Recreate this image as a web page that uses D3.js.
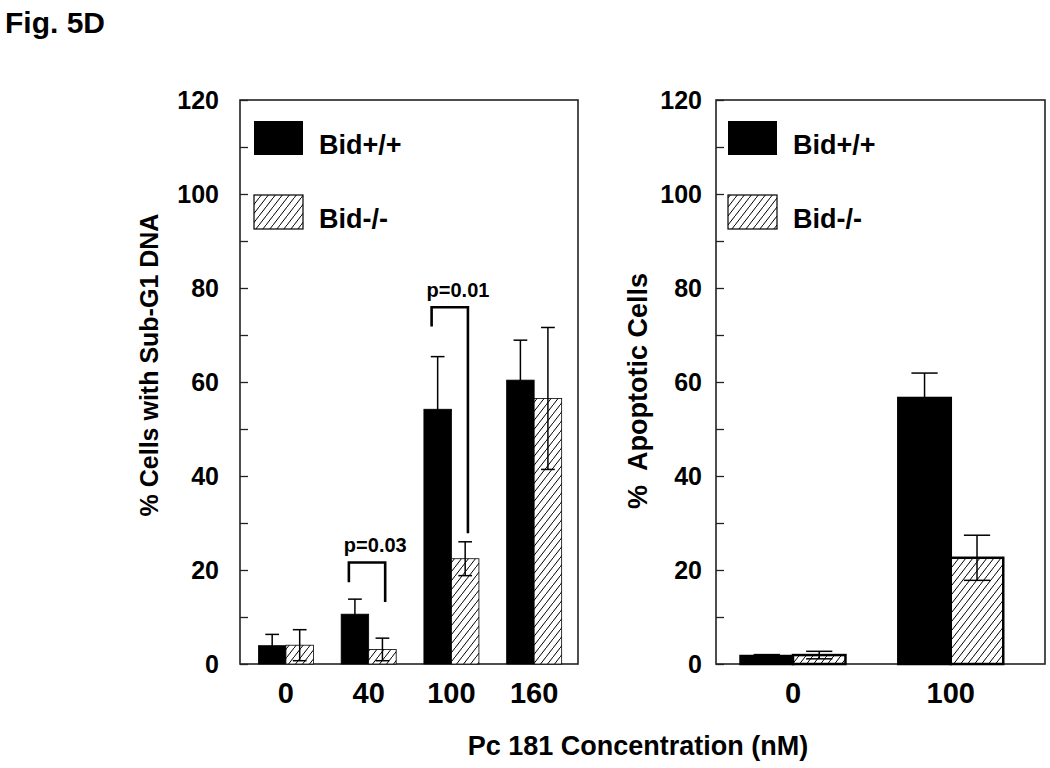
<!DOCTYPE html>
<html>
<head>
<meta charset="utf-8">
<script src="https://cdn.jsdelivr.net/npm/d3@7/dist/d3.min.js"></script>
<style>
  html, body { margin: 0; padding: 0; background: #fff; }
  svg { display: block; }
  text { font-family: "Liberation Sans", Arial, sans-serif; font-weight: bold; fill: #000; }
</style>
</head>
<body>
<svg id="chart" width="1050" height="768"></svg>
<script>
// ---------- data ----------
const seriesNames = ["Bid+/+", "Bid-/-"];
const leftCategories = ["0", "40", "100", "160"];
const leftWT = [3.9, 10.6, 54.2, 60.4];
const leftWTErr = [2.4, 3.2, 11.2, 8.5];
const leftKO = [4.0, 3.1, 22.4, 56.5];
const leftKOErr = [3.3, 2.4, 3.6, 15.1];

const rightCategories = ["0", "100"];
const rightWT = [1.7, 56.6];
const rightWTErr = [0.3, 5.3];
const rightKO = [1.9, 22.6];
const rightKOErr = [0.8, 4.8];

const yTickValues = [0, 10, 20, 30, 40, 50, 60, 70, 80, 90, 100, 110, 120];
const yTickLabels = ["0", "", "20", "", "40", "", "60", "", "80", "", "100", "", "120"];

// p-value brackets: category, label, top value, left end value, right end value
const bracketCats = ["40", "100"];
const bracketLabels = ["p=0.03", "p=0.01"];
const bracketTop = [21.6, 75.9];
const bracketLeftEnd = [17.4, 71.8];
const bracketRightEnd = [13.2, 27.8];

const leftTitle = "% Cells with Sub-G1 DNA";
const rightTitle = "%\u00a0 Apoptotic Cells";
const xTitle = "Pc 181 Concentration (nM)";
const figTitle = "Fig. 5D";

// ---------- drawing ----------
const svg = d3.select("#chart");
const defs = svg.append("defs");
const pat = defs.append("pattern")
  .attr("id", "hatch").attr("patternUnits", "userSpaceOnUse")
  .attr("width", 7).attr("height", 9);
pat.append("rect").attr("width", 7).attr("height", 9).attr("fill", "#fff");
pat.append("path").attr("d", "M0,9 L7,0 M-1,1 L0,0 M7,9 L8,8")
  .attr("stroke", "#000").attr("stroke-width", 1);

svg.append("text").attr("x", 5).attr("y", 33).attr("font-size", 30).text(figTitle);

function panel(cfg) {
  const g = svg.append("g");
  const y = d3.scaleLinear().domain([0, 120]).range([664, 100]);
  const x = d3.scaleBand().domain(cfg.cats).range([cfg.x0, cfg.x1])
    .paddingInner(0.335).paddingOuter(0.21).align(cfg.align);
  const xs = d3.scaleBand().domain(seriesNames).range([0, x.bandwidth()]);
  const bw = xs.bandwidth();

  // frame
  g.append("rect").attr("x", cfg.x0).attr("y", y(120))
    .attr("width", cfg.x1 - cfg.x0).attr("height", y(0) - y(120))
    .attr("fill", "none").attr("stroke", "#222").attr("stroke-width", 1.6);

  // y axis (ticks inward)
  const yAxis = d3.axisLeft(y).tickValues(yTickValues).tickSizeInner(-8).tickSizeOuter(0)
    .tickPadding(cfg.tickPad).tickFormat((d, i) => yTickLabels[i]);
  const ya = g.append("g").attr("transform", `translate(${cfg.x0},0)`).call(yAxis);
  ya.select(".domain").remove();
  ya.selectAll(".tick line").attr("stroke", "#222").attr("stroke-width", 1.3);
  ya.selectAll(".tick text").attr("font-size", 25).attr("font-family", "Liberation Sans, Arial, sans-serif")
    .attr("font-weight", "bold").attr("fill", "#000");

  // x axis labels
  const xAxis = d3.axisBottom(x).tickSize(0).tickPadding(13);
  const xa = g.append("g").attr("transform", `translate(0,${y(0)})`).call(xAxis);
  xa.select(".domain").remove();
  xa.selectAll(".tick text").attr("font-size", 29).attr("font-family", "Liberation Sans, Arial, sans-serif")
    .attr("font-weight", "bold").attr("fill", "#000").attr("dy", "0.9em");

  const rows = cfg.cats.map((c, i) => ({ c, wt: cfg.wt[i], wte: cfg.wte[i], ko: cfg.ko[i], koe: cfg.koe[i] }));

  function errBar(cx, v, e) {
    const cap = bw / 2;
    g.append("line").attr("x1", cx).attr("x2", cx).attr("y1", y(v - e)).attr("y2", y(v + e))
      .attr("stroke", "#000").attr("stroke-width", 1.5);
    g.append("line").attr("x1", cx - cap / 2).attr("x2", cx + cap / 2).attr("y1", y(v + e)).attr("y2", y(v + e))
      .attr("stroke", "#000").attr("stroke-width", 1.5);
    g.append("line").attr("x1", cx - cap / 2).attr("x2", cx + cap / 2).attr("y1", y(Math.max(0, v - e))).attr("y2", y(Math.max(0, v - e)))
      .attr("stroke", "#000").attr("stroke-width", 1.5);
  }

  rows.forEach(r => {
    const bx = x(r.c);
    g.append("rect").attr("x", bx + xs(seriesNames[0])).attr("y", y(r.wt))
      .attr("width", bw).attr("height", y(0) - y(r.wt))
      .attr("fill", "#000").attr("stroke", "#000").attr("stroke-width", cfg.barStroke);
    g.append("rect").attr("x", bx + xs(seriesNames[1])).attr("y", y(r.ko))
      .attr("width", bw).attr("height", y(0) - y(r.ko))
      .attr("fill", "url(#hatch)").attr("stroke", "#000").attr("stroke-width", cfg.barStroke);
    errBar(bx + xs(seriesNames[0]) + bw / 2, r.wt, r.wte);
    errBar(bx + xs(seriesNames[1]) + bw / 2, r.ko, r.koe);
  });

  // legend
  const lg = g.append("g");
  lg.append("rect").attr("x", cfg.x0 + cfg.legDx).attr("y", 121).attr("width", 49).attr("height", 34)
    .attr("fill", "#000");
  lg.append("text").attr("x", cfg.x0 + cfg.legDx + 65).attr("y", 154).attr("font-size", 27).text(seriesNames[0]);
  lg.append("rect").attr("x", cfg.x0 + cfg.legDx).attr("y", 195).attr("width", 49).attr("height", 34)
    .attr("fill", "url(#hatch)").attr("stroke", "#000").attr("stroke-width", 1.2);
  lg.append("text").attr("x", cfg.x0 + cfg.legDx + 65).attr("y", 228).attr("font-size", 27).text(seriesNames[1]);

  // y title
  g.append("text").attr("transform", `translate(${cfg.titleX},${cfg.titleY}) rotate(-90)`)
    .attr("text-anchor", "middle").attr("font-size", cfg.titleSize).text(cfg.title);

  return { g, x, xs, y, bw };
}

const L = panel({
  cats: leftCategories, wt: leftWT, wte: leftWTErr, ko: leftKO, koe: leftKOErr,
  x0: 240, x1: 578, align: 0.53, tickPad: 21, barStroke: 0.8, legDx: 14,
  title: leftTitle, titleX: 158, titleY: 365, titleSize: 25
});
const R = panel({
  cats: rightCategories, wt: rightWT, wte: rightWTErr, ko: rightKO, koe: rightKOErr,
  x0: 716, x1: 1045, align: 0.37, tickPad: 14, barStroke: 2.5, legDx: 12,
  title: rightTitle, titleX: 647, titleY: 391, titleSize: 27
});

// p-value brackets on the left panel
bracketCats.forEach((c, i) => {
  const xl = L.x(c) + L.xs(seriesNames[0]) + L.bw * 0.28;
  const xr = L.x(c) + L.xs(seriesNames[1]) + L.bw * 0.6;
  const yt = L.y(bracketTop[i]);
  L.g.append("path")
    .attr("d", `M${xl},${L.y(bracketLeftEnd[i])} L${xl},${yt} L${xr},${yt} L${xr},${L.y(bracketRightEnd[i])}`)
    .attr("fill", "none").attr("stroke", "#000").attr("stroke-width", 2.6);
  L.g.append("text").attr("x", xl - 5).attr("y", yt - 10).attr("font-size", 20).text(bracketLabels[i]);
});

// shared x title
svg.append("text").attr("x", 638).attr("y", 755).attr("text-anchor", "middle")
  .attr("font-size", 27).text(xTitle);
</script>
</body>
</html>
